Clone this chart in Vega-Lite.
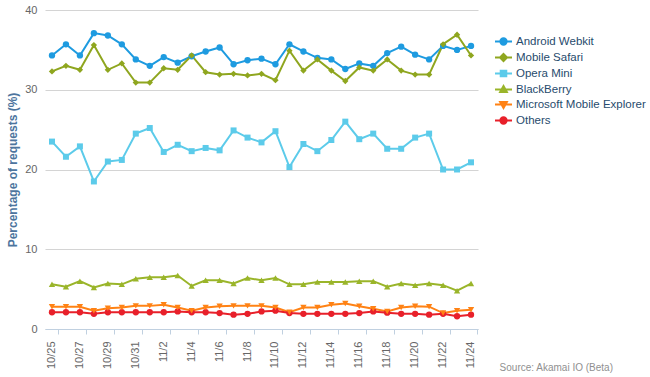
{
  "$schema": "https://vega.github.io/schema/vega-lite/v6.json",
  "width": 433,
  "height": 319,
  "autosize": "none",
  "padding": {"left": 45, "top": 10, "right": 172, "bottom": 48},
  "background": "white",
  "config": {"font": "Liberation Sans", "view": {"stroke": null}},
  "title": {"text": "Source: Akamai IO (Beta)", "orient": "bottom", "anchor": "end", "frame": "group", "dx": 135, "offset": -6, "fontSize": 10, "fontWeight": "normal", "color": "#909090", "font": "Liberation Sans"},
  "datasets": {
    "d": [
      {"date":"10/25","series":"Android Webkit","value":34.3},{"date":"10/26","series":"Android Webkit","value":35.7},{"date":"10/27","series":"Android Webkit","value":34.3},{"date":"10/28","series":"Android Webkit","value":37.1},{"date":"10/29","series":"Android Webkit","value":36.8},{"date":"10/30","series":"Android Webkit","value":35.7},{"date":"10/31","series":"Android Webkit","value":33.8},{"date":"11/1","series":"Android Webkit","value":33.0},{"date":"11/2","series":"Android Webkit","value":34.1},{"date":"11/3","series":"Android Webkit","value":33.4},{"date":"11/4","series":"Android Webkit","value":34.2},{"date":"11/5","series":"Android Webkit","value":34.8},{"date":"11/6","series":"Android Webkit","value":35.3},{"date":"11/7","series":"Android Webkit","value":33.2},{"date":"11/8","series":"Android Webkit","value":33.7},{"date":"11/9","series":"Android Webkit","value":33.9},{"date":"11/10","series":"Android Webkit","value":33.2},{"date":"11/11","series":"Android Webkit","value":35.7},{"date":"11/12","series":"Android Webkit","value":34.8},{"date":"11/13","series":"Android Webkit","value":34.0},{"date":"11/14","series":"Android Webkit","value":33.8},{"date":"11/15","series":"Android Webkit","value":32.6},{"date":"11/16","series":"Android Webkit","value":33.3},{"date":"11/17","series":"Android Webkit","value":33.0},{"date":"11/18","series":"Android Webkit","value":34.6},{"date":"11/19","series":"Android Webkit","value":35.4},{"date":"11/20","series":"Android Webkit","value":34.4},{"date":"11/21","series":"Android Webkit","value":33.8},{"date":"11/22","series":"Android Webkit","value":35.5},{"date":"11/23","series":"Android Webkit","value":35.0},{"date":"11/24","series":"Android Webkit","value":35.5},
      {"date":"10/25","series":"Mobile Safari","value":32.3},{"date":"10/26","series":"Mobile Safari","value":33.0},{"date":"10/27","series":"Mobile Safari","value":32.5},{"date":"10/28","series":"Mobile Safari","value":35.6},{"date":"10/29","series":"Mobile Safari","value":32.5},{"date":"10/30","series":"Mobile Safari","value":33.3},{"date":"10/31","series":"Mobile Safari","value":30.9},{"date":"11/1","series":"Mobile Safari","value":30.9},{"date":"11/2","series":"Mobile Safari","value":32.7},{"date":"11/3","series":"Mobile Safari","value":32.5},{"date":"11/4","series":"Mobile Safari","value":34.3},{"date":"11/5","series":"Mobile Safari","value":32.2},{"date":"11/6","series":"Mobile Safari","value":31.9},{"date":"11/7","series":"Mobile Safari","value":32.0},{"date":"11/8","series":"Mobile Safari","value":31.8},{"date":"11/9","series":"Mobile Safari","value":32.0},{"date":"11/10","series":"Mobile Safari","value":31.2},{"date":"11/11","series":"Mobile Safari","value":34.9},{"date":"11/12","series":"Mobile Safari","value":32.4},{"date":"11/13","series":"Mobile Safari","value":33.8},{"date":"11/14","series":"Mobile Safari","value":32.4},{"date":"11/15","series":"Mobile Safari","value":31.1},{"date":"11/16","series":"Mobile Safari","value":32.8},{"date":"11/17","series":"Mobile Safari","value":32.4},{"date":"11/18","series":"Mobile Safari","value":33.8},{"date":"11/19","series":"Mobile Safari","value":32.4},{"date":"11/20","series":"Mobile Safari","value":31.9},{"date":"11/21","series":"Mobile Safari","value":31.9},{"date":"11/22","series":"Mobile Safari","value":35.7},{"date":"11/23","series":"Mobile Safari","value":36.9},{"date":"11/24","series":"Mobile Safari","value":34.3},
      {"date":"10/25","series":"Opera Mini","value":23.5},{"date":"10/26","series":"Opera Mini","value":21.6},{"date":"10/27","series":"Opera Mini","value":22.9},{"date":"10/28","series":"Opera Mini","value":18.5},{"date":"10/29","series":"Opera Mini","value":21.0},{"date":"10/30","series":"Opera Mini","value":21.2},{"date":"10/31","series":"Opera Mini","value":24.5},{"date":"11/1","series":"Opera Mini","value":25.2},{"date":"11/2","series":"Opera Mini","value":22.2},{"date":"11/3","series":"Opera Mini","value":23.1},{"date":"11/4","series":"Opera Mini","value":22.3},{"date":"11/5","series":"Opera Mini","value":22.7},{"date":"11/6","series":"Opera Mini","value":22.4},{"date":"11/7","series":"Opera Mini","value":24.9},{"date":"11/8","series":"Opera Mini","value":24.0},{"date":"11/9","series":"Opera Mini","value":23.4},{"date":"11/10","series":"Opera Mini","value":24.8},{"date":"11/11","series":"Opera Mini","value":20.3},{"date":"11/12","series":"Opera Mini","value":23.2},{"date":"11/13","series":"Opera Mini","value":22.3},{"date":"11/14","series":"Opera Mini","value":23.7},{"date":"11/15","series":"Opera Mini","value":26.0},{"date":"11/16","series":"Opera Mini","value":23.8},{"date":"11/17","series":"Opera Mini","value":24.5},{"date":"11/18","series":"Opera Mini","value":22.6},{"date":"11/19","series":"Opera Mini","value":22.6},{"date":"11/20","series":"Opera Mini","value":24.0},{"date":"11/21","series":"Opera Mini","value":24.5},{"date":"11/22","series":"Opera Mini","value":20.0},{"date":"11/23","series":"Opera Mini","value":20.0},{"date":"11/24","series":"Opera Mini","value":20.9},
      {"date":"10/25","series":"BlackBerry","value":5.6},{"date":"10/26","series":"BlackBerry","value":5.3},{"date":"10/27","series":"BlackBerry","value":6.0},{"date":"10/28","series":"BlackBerry","value":5.2},{"date":"10/29","series":"BlackBerry","value":5.7},{"date":"10/30","series":"BlackBerry","value":5.6},{"date":"10/31","series":"BlackBerry","value":6.3},{"date":"11/1","series":"BlackBerry","value":6.5},{"date":"11/2","series":"BlackBerry","value":6.5},{"date":"11/3","series":"BlackBerry","value":6.7},{"date":"11/4","series":"BlackBerry","value":5.4},{"date":"11/5","series":"BlackBerry","value":6.1},{"date":"11/6","series":"BlackBerry","value":6.1},{"date":"11/7","series":"BlackBerry","value":5.7},{"date":"11/8","series":"BlackBerry","value":6.4},{"date":"11/9","series":"BlackBerry","value":6.1},{"date":"11/10","series":"BlackBerry","value":6.4},{"date":"11/11","series":"BlackBerry","value":5.6},{"date":"11/12","series":"BlackBerry","value":5.6},{"date":"11/13","series":"BlackBerry","value":5.9},{"date":"11/14","series":"BlackBerry","value":5.9},{"date":"11/15","series":"BlackBerry","value":5.9},{"date":"11/16","series":"BlackBerry","value":6.0},{"date":"11/17","series":"BlackBerry","value":6.0},{"date":"11/18","series":"BlackBerry","value":5.3},{"date":"11/19","series":"BlackBerry","value":5.7},{"date":"11/20","series":"BlackBerry","value":5.5},{"date":"11/21","series":"BlackBerry","value":5.7},{"date":"11/22","series":"BlackBerry","value":5.5},{"date":"11/23","series":"BlackBerry","value":4.8},{"date":"11/24","series":"BlackBerry","value":5.7},
      {"date":"10/25","series":"Microsoft Mobile Explorer","value":2.8},{"date":"10/26","series":"Microsoft Mobile Explorer","value":2.8},{"date":"10/27","series":"Microsoft Mobile Explorer","value":2.8},{"date":"10/28","series":"Microsoft Mobile Explorer","value":2.3},{"date":"10/29","series":"Microsoft Mobile Explorer","value":2.6},{"date":"10/30","series":"Microsoft Mobile Explorer","value":2.7},{"date":"10/31","series":"Microsoft Mobile Explorer","value":2.9},{"date":"11/1","series":"Microsoft Mobile Explorer","value":2.9},{"date":"11/2","series":"Microsoft Mobile Explorer","value":3.05},{"date":"11/3","series":"Microsoft Mobile Explorer","value":2.7},{"date":"11/4","series":"Microsoft Mobile Explorer","value":2.3},{"date":"11/5","series":"Microsoft Mobile Explorer","value":2.7},{"date":"11/6","series":"Microsoft Mobile Explorer","value":2.85},{"date":"11/7","series":"Microsoft Mobile Explorer","value":2.9},{"date":"11/8","series":"Microsoft Mobile Explorer","value":2.9},{"date":"11/9","series":"Microsoft Mobile Explorer","value":2.9},{"date":"11/10","series":"Microsoft Mobile Explorer","value":2.7},{"date":"11/11","series":"Microsoft Mobile Explorer","value":2.1},{"date":"11/12","series":"Microsoft Mobile Explorer","value":2.7},{"date":"11/13","series":"Microsoft Mobile Explorer","value":2.7},{"date":"11/14","series":"Microsoft Mobile Explorer","value":3.05},{"date":"11/15","series":"Microsoft Mobile Explorer","value":3.2},{"date":"11/16","series":"Microsoft Mobile Explorer","value":2.85},{"date":"11/17","series":"Microsoft Mobile Explorer","value":2.55},{"date":"11/18","series":"Microsoft Mobile Explorer","value":2.2},{"date":"11/19","series":"Microsoft Mobile Explorer","value":2.7},{"date":"11/20","series":"Microsoft Mobile Explorer","value":2.85},{"date":"11/21","series":"Microsoft Mobile Explorer","value":2.8},{"date":"11/22","series":"Microsoft Mobile Explorer","value":2.0},{"date":"11/23","series":"Microsoft Mobile Explorer","value":2.3},{"date":"11/24","series":"Microsoft Mobile Explorer","value":2.4},
      {"date":"10/25","series":"Others","value":2.1},{"date":"10/26","series":"Others","value":2.1},{"date":"10/27","series":"Others","value":2.1},{"date":"10/28","series":"Others","value":1.9},{"date":"10/29","series":"Others","value":2.1},{"date":"10/30","series":"Others","value":2.1},{"date":"10/31","series":"Others","value":2.1},{"date":"11/1","series":"Others","value":2.1},{"date":"11/2","series":"Others","value":2.1},{"date":"11/3","series":"Others","value":2.2},{"date":"11/4","series":"Others","value":2.1},{"date":"11/5","series":"Others","value":2.1},{"date":"11/6","series":"Others","value":2.0},{"date":"11/7","series":"Others","value":1.8},{"date":"11/8","series":"Others","value":1.9},{"date":"11/9","series":"Others","value":2.2},{"date":"11/10","series":"Others","value":2.3},{"date":"11/11","series":"Others","value":2.0},{"date":"11/12","series":"Others","value":1.9},{"date":"11/13","series":"Others","value":1.9},{"date":"11/14","series":"Others","value":1.9},{"date":"11/15","series":"Others","value":1.9},{"date":"11/16","series":"Others","value":2.0},{"date":"11/17","series":"Others","value":2.2},{"date":"11/18","series":"Others","value":2.05},{"date":"11/19","series":"Others","value":1.9},{"date":"11/20","series":"Others","value":1.9},{"date":"11/21","series":"Others","value":1.8},{"date":"11/22","series":"Others","value":1.9},{"date":"11/23","series":"Others","value":1.6},{"date":"11/24","series":"Others","value":1.8}
    ]
  },
  "data": {"name": "d"},
  "encoding": {
    "x": {"field": "date", "type": "ordinal", "sort": null,
      "scale": {"type": "band", "paddingInner": 0, "paddingOuter": 0},
      "axis": null
    },
    "y": {
      "field": "value", "type": "quantitative",
      "scale": {"domain": [0, 40], "nice": false},
      "axis": {"title": "Percentage of requests (%)", "values": [0, 10, 20, 30, 40], "domain": false, "ticks": false, "gridColor": "#d4d4d4", "gridWidth": 1.2, "labelColor": "#666666", "labelFontSize": 11, "labelPadding": 8, "titleColor": "#4d759e", "titleFontSize": 12, "titleFontWeight": "bold", "titlePadding": 5}
    },
    "color": {
      "field": "series", "type": "nominal",
      "scale": {"domain": ["Android Webkit", "Mobile Safari", "Opera Mini", "BlackBerry", "Microsoft Mobile Explorer", "Others"], "range": ["#1e9be0", "#8fa61f", "#5ccbea", "#9ab52a", "#ff8214", "#e8202a"]},
      "legend": {
        "orient": "none", "legendX": 452, "legendY": 25, "title": null, "padding": 0,
        "symbolSize": 110, "symbolStrokeWidth": 2, "labelFontSize": 11.5, "labelColor": "#274b6d", "labelFont": "Liberation Sans", "labelOffset": 6, "rowPadding": 0,
        "encode": {"symbols": {"update": {
          "fill": {"scale": "color", "field": "value"},
          "stroke": {"scale": "color", "field": "value"},
          "opacity": {"value": 1},
          "shape": {"signal": "datum.value === 'Android Webkit' || datum.value === 'Others' ? 'M-1.62,0L1.62,0M0.6,0A0.6,0.6,0,1,1,-0.6,0A0.6,0.6,0,1,1,0.6,0Z' : datum.value === 'Mobile Safari' ? 'M-1.62,0L1.62,0M0,-0.67L0.67,0L0,0.67L-0.67,0Z' : datum.value === 'Opera Mini' ? 'M-1.62,0L1.62,0M-0.53,-0.53L0.53,-0.53L0.53,0.53L-0.53,0.53Z' : datum.value === 'BlackBerry' ? 'M-1.62,0L1.62,0M0,-0.67L0.64,0.48L-0.64,0.48Z' : 'M-1.62,0L1.62,0M0,0.67L0.64,-0.48L-0.64,-0.48Z'"}
        }}}
      }
    }
  },
  "layer": [
    {
      "mark": {"type": "line", "strokeWidth": 2},
      "encoding": {
        "x": {"field": "date", "type": "ordinal", "sort": null,
          "axis": {"title": null, "values": ["10/25","10/27","10/29","10/31","11/2","11/4","11/6","11/8","11/10","11/12","11/14","11/16","11/18","11/20","11/22","11/24"], "labelAngle": -90, "ticks": false, "labelPadding": 12, "labelColor": "#666666", "labelFontSize": 11, "domainColor": "#C0D0E0", "domainWidth": 1, "grid": false}
        }
      }
    },
    {
      "transform": [{"filter": {"field": "series", "oneOf": ["Android Webkit", "Others"]}}],
      "mark": {"type": "point", "filled": true, "size": 40, "opacity": 1, "shape": "circle"},
      "encoding": {
        "x": {"field": "date", "type": "ordinal", "sort": null,
          "axis": {"title": null, "orient": "bottom", "values": ["10/25","10/27","10/29","10/31","11/2","11/4","11/6","11/8","11/10","11/12","11/14","11/16","11/18","11/20","11/22","11/24"], "bandPosition": 1, "labels": false, "domain": false, "ticks": true, "tickColor": "#C0D0E0", "tickSize": 5, "grid": false}
        }
      }
    },
    {
      "transform": [{"filter": {"field": "series", "equal": "Mobile Safari"}}],
      "mark": {"type": "point", "filled": true, "size": 40, "opacity": 1, "shape": "diamond"}
    },
    {
      "transform": [{"filter": {"field": "series", "equal": "Opera Mini"}}],
      "mark": {"type": "point", "filled": true, "size": 36, "opacity": 1, "shape": "square"}
    },
    {
      "transform": [{"filter": {"field": "series", "equal": "BlackBerry"}}],
      "mark": {"type": "point", "filled": true, "size": 40, "opacity": 1, "shape": "triangle-up"}
    },
    {
      "transform": [{"filter": {"field": "series", "equal": "Microsoft Mobile Explorer"}}],
      "mark": {"type": "point", "filled": true, "size": 40, "opacity": 1, "shape": "triangle-down"}
    }
  ],
  "resolve": {"axis": {"x": "independent"}}
}
